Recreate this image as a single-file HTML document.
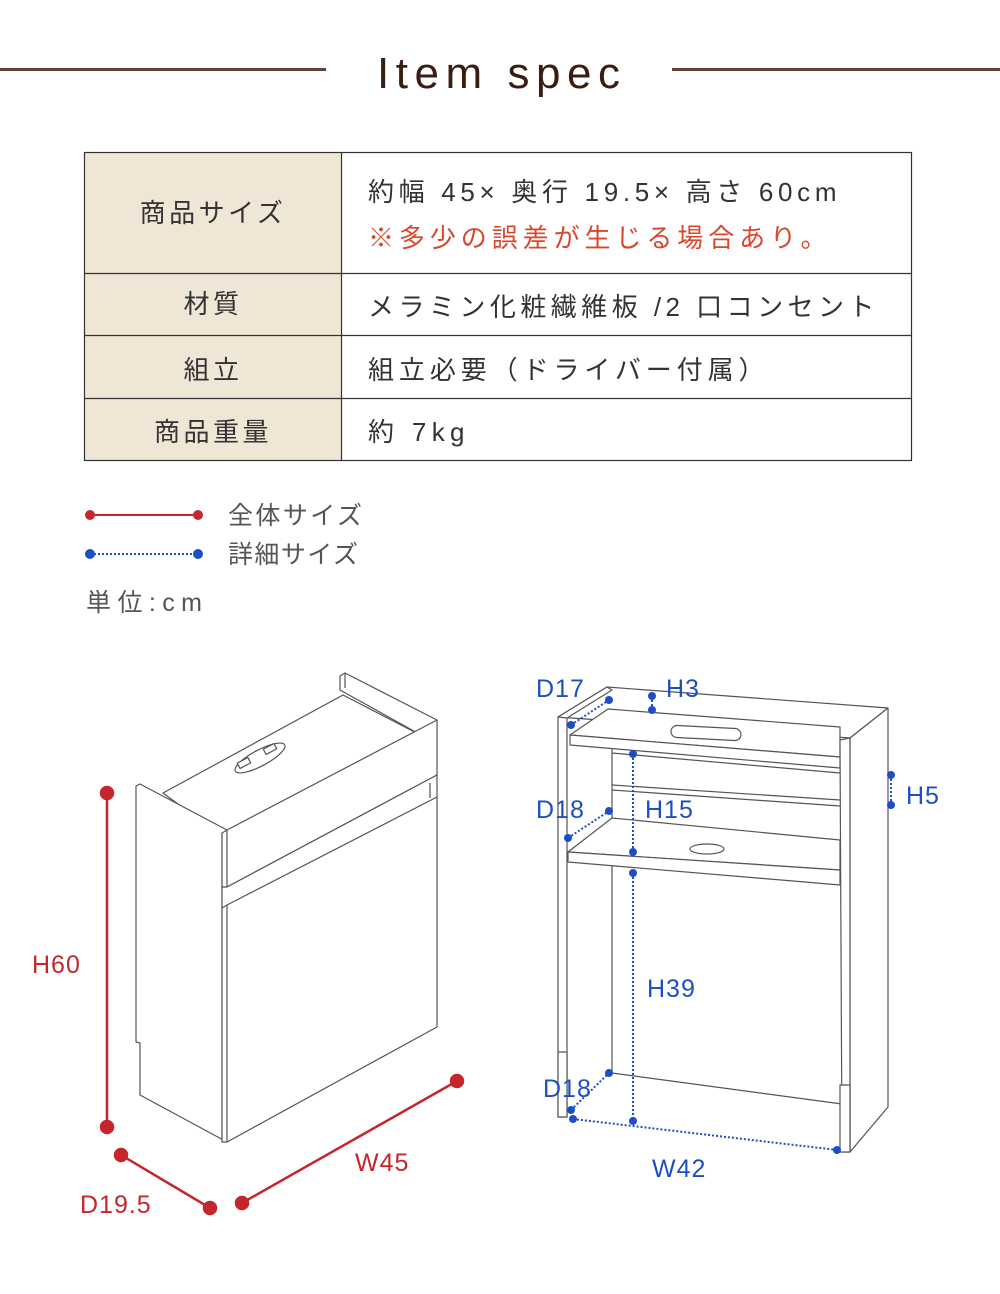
<!DOCTYPE html>
<html><head><meta charset="utf-8"><style>
html,body{margin:0;padding:0;background:#fff;}
body{width:1000px;height:1289px;overflow:hidden;}
svg text{font-family:"Liberation Sans","Noto Sans CJK JP",sans-serif;}
</style></head><body>
<svg width="1000" height="1289" viewBox="0 0 1000 1289" xmlns="http://www.w3.org/2000/svg">
<rect x="0" y="68" width="326" height="3" fill="#5e4338"/>
<rect x="672" y="68" width="328" height="3" fill="#5e4338"/>
<text x="500" y="88" text-anchor="middle" font-size="44" fill="#3a1d12" letter-spacing="3" textLength="246" lengthAdjust="spacing" font-weight="300">Item spec</text>

<!-- table -->
<rect x="84.5" y="152.5" width="257" height="308" fill="#efe6d6"/>
<g stroke="#333" stroke-width="1.2" fill="none">
<rect x="84.5" y="152.5" width="827" height="308"/>
<line x1="341.5" y1="152" x2="341.5" y2="461"/>
<line x1="84" y1="273.5" x2="912" y2="273.5"/>
<line x1="84" y1="335.5" x2="912" y2="335.5"/>
<line x1="84" y1="398.5" x2="912" y2="398.5"/>
</g>
<g font-size="26" fill="#333" text-anchor="middle" letter-spacing="3.5">
<text x="213" y="222">商品サイズ</text>
<text x="213" y="313">材質</text>
<text x="213" y="379">組立</text>
<text x="213" y="441">商品重量</text>
</g>
<g font-size="26" fill="#333" letter-spacing="3.5">
<text x="368" y="201" textLength="472" lengthAdjust="spacing">約幅 45× 奥行 19.5× 高さ 60cm</text>
<text x="368" y="247" fill="#d9472b" textLength="462" lengthAdjust="spacing">※多少の誤差が生じる場合あり。</text>
<text x="368" y="316" textLength="510" lengthAdjust="spacing">メラミン化粧繊維板 /2 口コンセント</text>
<text x="368" y="379" textLength="400" lengthAdjust="spacing">組立必要（ドライバー付属）</text>
<text x="368" y="441" textLength="100" lengthAdjust="spacing">約 7kg</text>
</g>

<!-- legend -->
<line x1="90" y1="515" x2="198" y2="515" stroke="#c4262b" stroke-width="2"/>
<circle cx="90" cy="515" r="5" fill="#c4262b"/><circle cx="198" cy="515" r="5" fill="#c4262b"/>
<line x1="90" y1="554" x2="198" y2="554" stroke="#1d4fc4" stroke-width="2" stroke-dasharray="2,2"/>
<circle cx="90" cy="554" r="5" fill="#1d4fc4"/><circle cx="198" cy="554" r="5" fill="#1d4fc4"/>
<g font-size="25" fill="#555">
<text x="228" y="524" textLength="134" lengthAdjust="spacing">全体サイズ</text>
<text x="228" y="563" textLength="130" lengthAdjust="spacing">詳細サイズ</text>
<text x="86" y="611" textLength="116" lengthAdjust="spacing">単位:cm</text>
</g>

<!-- left cabinet -->
<g stroke="#555" stroke-width="1.2" fill="#fff" stroke-linejoin="round">
<polygon points="340,676 345,673 437,720 437,722 430,740 340,690"/>
<line x1="345" y1="673" x2="345" y2="688"/>
<polygon points="163,793 343,695 430,740 227,840"/>
<polygon points="136,786 140,784 227,830 227,1142 140,1095 140,1043 136,1042"/>
<line x1="222" y1="833" x2="222" y2="1142"/>
<polygon points="222,833 227,830 437,720 437,775 227,887 222,887"/>
<line x1="227" y1="830" x2="227" y2="887"/>
<polygon points="222,887 227,887 437,775 437,798 227,908 222,908"/>
<polygon points="222,908 227,905 437,797 437,1027 227,1142 222,1142"/>
<line x1="227" y1="905" x2="227" y2="1142"/>
<line x1="430" y1="783" x2="430" y2="798"/>
<ellipse cx="260" cy="758" rx="28" ry="8" transform="rotate(-28 260 758)"/>
<rect x="238" y="760" width="12" height="6" transform="rotate(-28 244 763)"/>
<rect x="264" y="746" width="12" height="6" transform="rotate(-28 270 749)"/>
</g>
<g stroke="#c4262b" stroke-width="2.5" fill="#c4262b">
<line x1="107" y1="793" x2="107" y2="1127"/>
<line x1="121" y1="1155" x2="210" y2="1208"/>
<line x1="242" y1="1203" x2="457" y2="1081"/>
<circle cx="107" cy="793" r="6"/><circle cx="107" cy="1127" r="6"/>
<circle cx="121" cy="1155" r="6"/><circle cx="210" cy="1208" r="6"/>
<circle cx="242" cy="1203" r="6"/><circle cx="457" cy="1081" r="6"/>
</g>
<g font-size="25" fill="#c4262b" letter-spacing="1">
<text x="32" y="973">H60</text>
<text x="80" y="1213">D19.5</text>
<text x="355" y="1171">W45</text>
</g>

<!-- right cabinet -->
<g stroke="#555" stroke-width="1.2" fill="#fff" stroke-linejoin="round">
<polygon points="558,717 607,687 888,708 850,738"/>
<polygon points="850,738 888,708 888,1107 850,1152"/>
<line x1="612" y1="748" x2="612" y2="1073"/>
<line x1="612" y1="1073" x2="842" y2="1104"/>
<polygon points="570,735 608,709 840,727 840,757"/>
<polygon points="570,735 840,757 840,768 570,745"/>
<line x1="612" y1="753" x2="840" y2="773"/>
<line x1="612" y1="785" x2="840" y2="800"/>
<line x1="612" y1="790" x2="840" y2="806"/>
<polygon points="568,852 612,818 840,840 840,870"/>
<polygon points="568,852 840,870 840,885 568,862"/>
<rect x="671" y="727" width="70" height="12" rx="6" transform="rotate(3 706 733)"/>
<ellipse cx="707" cy="849" rx="17" ry="5"/>
<polygon points="558,717 567,714 567,1117 558,1117"/>
<rect x="558" y="1052" width="9" height="65"/>
<polygon points="840,740 850,738 850,1152 842,1152"/>
<rect x="840" y="1085" width="10" height="67"/>
<polygon points="558,717 607,687 612,690 567,718"/>
</g>
<g stroke="#1d4fc4" stroke-width="2" stroke-dasharray="2,2" fill="none">
<line x1="571" y1="725" x2="609" y2="700"/>
<line x1="652" y1="696" x2="652" y2="710"/>
<line x1="568" y1="838" x2="609" y2="811"/>
<line x1="633" y1="754" x2="633" y2="852"/>
<line x1="633" y1="873" x2="633" y2="1121"/>
<line x1="571" y1="1110" x2="609" y2="1073"/>
<line x1="573" y1="1119" x2="837" y2="1150"/>
<line x1="891" y1="775" x2="891" y2="805"/>
</g>
<g fill="#1d4fc4">
<circle cx="571" cy="725" r="4"/><circle cx="609" cy="700" r="4"/>
<circle cx="652" cy="696" r="4"/><circle cx="652" cy="710" r="4"/>
<circle cx="568" cy="838" r="4"/><circle cx="609" cy="811" r="4"/>
<circle cx="633" cy="754" r="4"/><circle cx="633" cy="852" r="4"/>
<circle cx="633" cy="873" r="4"/><circle cx="633" cy="1121" r="4"/>
<circle cx="571" cy="1110" r="4"/><circle cx="609" cy="1073" r="4"/>
<circle cx="573" cy="1119" r="4"/><circle cx="837" cy="1150" r="4"/>
<circle cx="891" cy="775" r="4"/><circle cx="891" cy="805" r="4"/>
</g>
<g font-size="25" fill="#1d4fc4" letter-spacing="1">
<text x="536" y="697">D17</text>
<text x="666" y="697">H3</text>
<text x="536" y="818">D18</text>
<text x="645" y="818">H15</text>
<text x="906" y="804">H5</text>
<text x="647" y="997">H39</text>
<text x="543" y="1097">D18</text>
<text x="652" y="1177">W42</text>
</g>
</svg>
</body></html>
